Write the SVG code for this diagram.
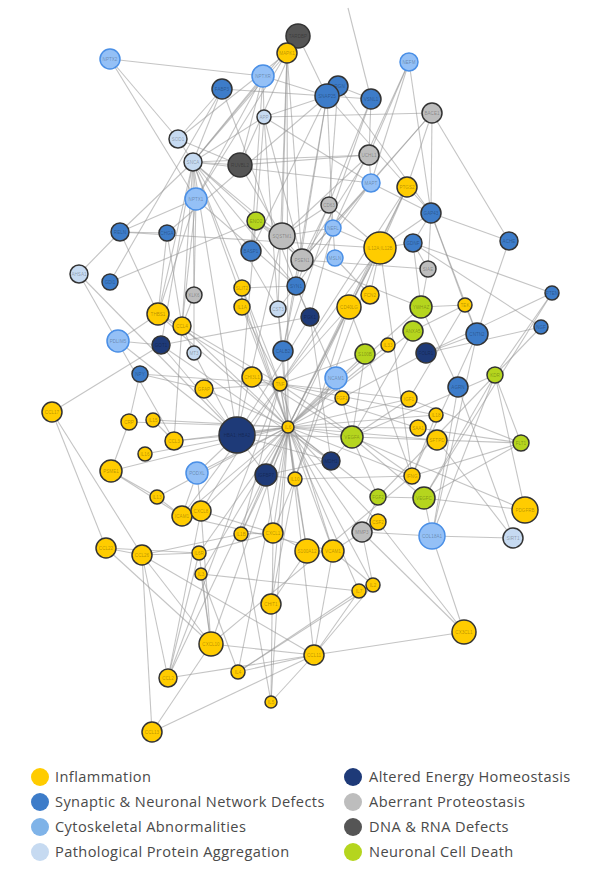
<svg xmlns="http://www.w3.org/2000/svg" width="600" height="880" viewBox="0 0 600 880">
<style>
#edges line{stroke:#949494;stroke-opacity:.55;stroke-width:1.1}
.nd circle{stroke:#333;stroke-width:1.5}
.inf{fill:#FFCC00}.syn{fill:#3D7CC9}.cyt{fill:#94C0F6}.nd .cyt{stroke:#4A8FE6}.ppa{fill:#C6DAF1}.aeh{fill:#1E3A78}.apr{fill:#BDBDBD}.dna{fill:#555}.ncd{fill:#B5D51E}
.nd text{font-family:"Liberation Sans",Arial,sans-serif;font-size:4.6px;text-anchor:middle;dominant-baseline:central;fill:#000;fill-opacity:.3}
.lg text{font-family:"Open Sans","Liberation Sans",sans-serif;font-size:14.6px;letter-spacing:.4px;fill:#4a4a4a}
</style>
<rect width="600" height="880" fill="#fff"/>
<g id="edges">
<line x1="110" y1="59" x2="263" y2="76"/><line x1="110" y1="59" x2="178" y2="139"/><line x1="110" y1="59" x2="196" y2="199"/>
<line x1="298" y1="36" x2="287" y2="53"/><line x1="298" y1="36" x2="327" y2="96"/><line x1="298" y1="36" x2="193" y2="162"/>
<line x1="287" y1="53" x2="193" y2="162"/><line x1="287" y1="53" x2="178" y2="139"/><line x1="287" y1="53" x2="288" y2="427"/><line x1="287" y1="53" x2="282" y2="236"/><line x1="287" y1="53" x2="302" y2="260"/><line x1="287" y1="53" x2="196" y2="199"/><line x1="287" y1="53" x2="278" y2="309"/>
<line x1="222" y1="89" x2="327" y2="96"/><line x1="222" y1="89" x2="178" y2="139"/><line x1="222" y1="89" x2="193" y2="162"/><line x1="222" y1="89" x2="296" y2="286"/><line x1="222" y1="89" x2="110" y2="282"/>
<line x1="263" y1="76" x2="193" y2="162"/><line x1="263" y1="76" x2="264" y2="117"/><line x1="263" y1="76" x2="196" y2="199"/><line x1="263" y1="76" x2="327" y2="96"/><line x1="263" y1="76" x2="251" y2="251"/><line x1="263" y1="76" x2="240" y2="165"/>
<line x1="327" y1="96" x2="338" y2="86"/><line x1="327" y1="96" x2="371" y2="99"/><line x1="327" y1="96" x2="296" y2="286"/><line x1="327" y1="96" x2="264" y2="117"/><line x1="327" y1="96" x2="251" y2="251"/><line x1="327" y1="96" x2="333" y2="228"/><line x1="327" y1="96" x2="431" y2="213"/><line x1="327" y1="96" x2="283" y2="351"/>
<line x1="338" y1="86" x2="371" y2="99"/><line x1="338" y1="86" x2="431" y2="213"/><line x1="338" y1="86" x2="329" y2="205"/>
<line x1="371" y1="99" x2="348" y2="8"/><line x1="371" y1="99" x2="369" y2="155"/><line x1="371" y1="99" x2="283" y2="351"/><line x1="371" y1="99" x2="296" y2="286"/>
<line x1="264" y1="117" x2="432" y2="113"/><line x1="264" y1="117" x2="302" y2="260"/><line x1="264" y1="117" x2="193" y2="162"/><line x1="264" y1="117" x2="371" y2="183"/><line x1="264" y1="117" x2="278" y2="309"/><line x1="264" y1="117" x2="256" y2="221"/>
<line x1="409" y1="62" x2="333" y2="228"/><line x1="409" y1="62" x2="371" y2="183"/><line x1="409" y1="62" x2="431" y2="213"/><line x1="409" y1="62" x2="369" y2="155"/>
<line x1="432" y1="113" x2="302" y2="260"/><line x1="432" y1="113" x2="431" y2="213"/><line x1="432" y1="113" x2="509" y2="241"/><line x1="432" y1="113" x2="371" y2="183"/>
<line x1="178" y1="139" x2="193" y2="162"/><line x1="178" y1="139" x2="240" y2="165"/>
<line x1="193" y1="162" x2="240" y2="165"/><line x1="193" y1="162" x2="196" y2="199"/><line x1="193" y1="162" x2="282" y2="236"/><line x1="193" y1="162" x2="302" y2="260"/><line x1="193" y1="162" x2="369" y2="155"/><line x1="193" y1="162" x2="371" y2="183"/><line x1="193" y1="162" x2="237" y2="435"/><line x1="193" y1="162" x2="288" y2="427"/><line x1="193" y1="162" x2="278" y2="309"/><line x1="193" y1="162" x2="194" y2="295"/><line x1="193" y1="162" x2="161" y2="345"/><line x1="193" y1="162" x2="158" y2="314"/><line x1="193" y1="162" x2="182" y2="326"/><line x1="193" y1="162" x2="296" y2="286"/><line x1="193" y1="162" x2="280" y2="384"/>
<line x1="240" y1="165" x2="369" y2="155"/><line x1="240" y1="165" x2="282" y2="236"/><line x1="240" y1="165" x2="298" y2="36"/>
<line x1="369" y1="155" x2="282" y2="236"/><line x1="369" y1="155" x2="302" y2="260"/><line x1="369" y1="155" x2="371" y2="183"/>
<line x1="371" y1="183" x2="302" y2="260"/><line x1="371" y1="183" x2="431" y2="213"/><line x1="371" y1="183" x2="333" y2="228"/><line x1="371" y1="183" x2="296" y2="286"/>
<line x1="407" y1="187" x2="288" y2="427"/><line x1="407" y1="187" x2="280" y2="384"/><line x1="407" y1="187" x2="380" y2="248"/><line x1="407" y1="187" x2="432" y2="113"/><line x1="407" y1="187" x2="241" y2="534"/>
<line x1="196" y1="199" x2="120" y2="232"/><line x1="196" y1="199" x2="182" y2="326"/><line x1="196" y1="199" x2="194" y2="295"/><line x1="196" y1="199" x2="158" y2="314"/><line x1="196" y1="199" x2="296" y2="286"/>
<line x1="120" y1="232" x2="79" y2="274"/><line x1="120" y1="232" x2="167" y2="233"/><line x1="120" y1="232" x2="158" y2="314"/><line x1="120" y1="232" x2="380" y2="248"/><line x1="120" y1="232" x2="193" y2="162"/>
<line x1="167" y1="233" x2="158" y2="314"/><line x1="167" y1="233" x2="327" y2="96"/><line x1="167" y1="233" x2="182" y2="326"/>
<line x1="79" y1="274" x2="174" y2="441"/><line x1="79" y1="274" x2="237" y2="435"/><line x1="110" y1="282" x2="256" y2="221"/>
<line x1="256" y1="221" x2="282" y2="236"/><line x1="256" y1="221" x2="251" y2="251"/><line x1="256" y1="221" x2="237" y2="435"/><line x1="256" y1="221" x2="302" y2="260"/>
<line x1="282" y1="236" x2="302" y2="260"/><line x1="282" y1="236" x2="329" y2="205"/><line x1="282" y1="236" x2="237" y2="435"/><line x1="282" y1="236" x2="333" y2="228"/>
<line x1="329" y1="205" x2="333" y2="228"/><line x1="329" y1="205" x2="302" y2="260"/><line x1="329" y1="205" x2="380" y2="248"/>
<line x1="333" y1="228" x2="335" y2="258"/><line x1="333" y1="228" x2="380" y2="248"/><line x1="333" y1="228" x2="310" y2="317"/>
<line x1="380" y1="248" x2="288" y2="427"/><line x1="380" y1="248" x2="280" y2="384"/><line x1="380" y1="248" x2="349" y2="307"/><line x1="380" y1="248" x2="412" y2="476"/><line x1="380" y1="248" x2="413" y2="243"/><line x1="380" y1="248" x2="295" y2="479"/><line x1="380" y1="248" x2="370" y2="295"/>
<line x1="431" y1="213" x2="413" y2="243"/><line x1="431" y1="213" x2="428" y2="269"/><line x1="431" y1="213" x2="477" y2="334"/><line x1="431" y1="213" x2="509" y2="241"/><line x1="431" y1="213" x2="465" y2="305"/><line x1="431" y1="213" x2="380" y2="248"/>
<line x1="509" y1="241" x2="477" y2="334"/>
<line x1="413" y1="243" x2="552" y2="293"/><line x1="413" y1="243" x2="541" y2="327"/><line x1="413" y1="243" x2="421" y2="307"/><line x1="413" y1="243" x2="428" y2="269"/>
<line x1="428" y1="269" x2="421" y2="307"/><line x1="428" y1="269" x2="302" y2="260"/>
<line x1="465" y1="305" x2="421" y2="307"/><line x1="465" y1="305" x2="477" y2="334"/><line x1="465" y1="305" x2="413" y2="331"/><line x1="465" y1="305" x2="409" y2="399"/>
<line x1="552" y1="293" x2="424" y2="498"/><line x1="552" y1="293" x2="426" y2="353"/><line x1="552" y1="293" x2="495" y2="375"/>
<line x1="541" y1="327" x2="378" y2="497"/><line x1="541" y1="327" x2="426" y2="353"/>
<line x1="477" y1="334" x2="432" y2="536"/><line x1="477" y1="334" x2="426" y2="353"/><line x1="477" y1="334" x2="412" y2="476"/>
<line x1="194" y1="295" x2="182" y2="326"/><line x1="194" y1="295" x2="194" y2="353"/>
<line x1="242" y1="288" x2="242" y2="307"/><line x1="242" y1="288" x2="296" y2="286"/>
<line x1="242" y1="307" x2="288" y2="427"/><line x1="242" y1="307" x2="280" y2="384"/>
<line x1="296" y1="286" x2="278" y2="309"/><line x1="296" y1="286" x2="310" y2="317"/><line x1="296" y1="286" x2="283" y2="351"/>
<line x1="278" y1="309" x2="283" y2="351"/>
<line x1="310" y1="317" x2="237" y2="435"/><line x1="310" y1="317" x2="331" y2="461"/><line x1="310" y1="317" x2="161" y2="345"/>
<line x1="349" y1="307" x2="288" y2="427"/><line x1="349" y1="307" x2="280" y2="384"/><line x1="349" y1="307" x2="412" y2="476"/><line x1="349" y1="307" x2="295" y2="479"/>
<line x1="370" y1="295" x2="335" y2="258"/>
<line x1="158" y1="314" x2="182" y2="326"/><line x1="158" y1="314" x2="118" y2="341"/><line x1="158" y1="314" x2="352" y2="437"/><line x1="158" y1="314" x2="288" y2="427"/>
<line x1="182" y1="326" x2="288" y2="427"/><line x1="182" y1="326" x2="280" y2="384"/><line x1="182" y1="326" x2="174" y2="441"/><line x1="182" y1="326" x2="194" y2="353"/>
<line x1="118" y1="341" x2="161" y2="345"/><line x1="118" y1="341" x2="237" y2="435"/>
<line x1="161" y1="345" x2="331" y2="461"/><line x1="161" y1="345" x2="237" y2="435"/><line x1="194" y1="353" x2="237" y2="435"/>
<line x1="140" y1="374" x2="129" y2="422"/><line x1="140" y1="374" x2="204" y2="389"/><line x1="140" y1="374" x2="280" y2="384"/>
<line x1="283" y1="351" x2="288" y2="427"/>
<line x1="365" y1="354" x2="288" y2="427"/><line x1="365" y1="354" x2="280" y2="384"/><line x1="365" y1="354" x2="352" y2="437"/>
<line x1="388" y1="345" x2="288" y2="427"/><line x1="413" y1="331" x2="288" y2="427"/><line x1="413" y1="331" x2="352" y2="437"/>
<line x1="426" y1="353" x2="342" y2="398"/><line x1="421" y1="307" x2="302" y2="260"/><line x1="421" y1="307" x2="288" y2="427"/>
<line x1="252" y1="377" x2="288" y2="427"/><line x1="252" y1="377" x2="280" y2="384"/>
<line x1="280" y1="384" x2="288" y2="427"/><line x1="280" y1="384" x2="295" y2="479"/><line x1="280" y1="384" x2="241" y2="534"/><line x1="280" y1="384" x2="201" y2="511"/><line x1="280" y1="384" x2="182" y2="516"/><line x1="280" y1="384" x2="333" y2="551"/><line x1="280" y1="384" x2="168" y2="678"/><line x1="280" y1="384" x2="412" y2="476"/><line x1="280" y1="384" x2="409" y2="399"/>
<line x1="336" y1="378" x2="288" y2="427"/><line x1="336" y1="378" x2="342" y2="398"/><line x1="336" y1="378" x2="296" y2="286"/>
<line x1="342" y1="398" x2="288" y2="427"/><line x1="342" y1="398" x2="352" y2="437"/>
<line x1="409" y1="399" x2="288" y2="427"/><line x1="409" y1="399" x2="352" y2="437"/><line x1="409" y1="399" x2="521" y2="443"/>
<line x1="458" y1="387" x2="432" y2="536"/><line x1="458" y1="387" x2="513" y2="538"/><line x1="458" y1="387" x2="421" y2="307"/>
<line x1="495" y1="375" x2="352" y2="437"/><line x1="495" y1="375" x2="521" y2="443"/><line x1="495" y1="375" x2="424" y2="498"/><line x1="495" y1="375" x2="432" y2="536"/><line x1="495" y1="375" x2="525" y2="510"/>
<line x1="204" y1="389" x2="288" y2="427"/><line x1="204" y1="389" x2="280" y2="384"/>
<line x1="52" y1="412" x2="161" y2="345"/><line x1="52" y1="412" x2="106" y2="548"/><line x1="52" y1="412" x2="142" y2="555"/>
<line x1="129" y1="422" x2="288" y2="427"/><line x1="129" y1="422" x2="111" y2="471"/>
<line x1="153" y1="420" x2="288" y2="427"/><line x1="153" y1="420" x2="174" y2="441"/>
<line x1="174" y1="441" x2="288" y2="427"/><line x1="174" y1="441" x2="237" y2="435"/>
<line x1="237" y1="435" x2="288" y2="427"/><line x1="237" y1="435" x2="266" y2="475"/><line x1="237" y1="435" x2="331" y2="461"/><line x1="237" y1="435" x2="352" y2="437"/><line x1="237" y1="435" x2="197" y2="473"/>
<line x1="288" y1="427" x2="295" y2="479"/><line x1="288" y1="427" x2="241" y2="534"/><line x1="288" y1="427" x2="201" y2="511"/><line x1="288" y1="427" x2="168" y2="678"/><line x1="288" y1="427" x2="211" y2="644"/><line x1="288" y1="427" x2="352" y2="437"/><line x1="288" y1="427" x2="145" y2="454"/><line x1="288" y1="427" x2="157" y2="497"/><line x1="288" y1="427" x2="314" y2="655"/><line x1="288" y1="427" x2="418" y2="428"/><line x1="288" y1="427" x2="412" y2="476"/><line x1="288" y1="427" x2="378" y2="522"/><line x1="288" y1="427" x2="307" y2="551"/><line x1="288" y1="427" x2="333" y2="551"/><line x1="288" y1="427" x2="182" y2="516"/><line x1="288" y1="427" x2="238" y2="672"/><line x1="288" y1="427" x2="271" y2="702"/><line x1="288" y1="427" x2="271" y2="604"/><line x1="288" y1="427" x2="278" y2="309"/><line x1="288" y1="427" x2="242" y2="288"/><line x1="288" y1="427" x2="266" y2="475"/><line x1="288" y1="427" x2="331" y2="461"/><line x1="288" y1="427" x2="273" y2="533"/><line x1="288" y1="427" x2="362" y2="532"/><line x1="288" y1="427" x2="437" y2="440"/><line x1="288" y1="427" x2="436" y2="415"/><line x1="288" y1="427" x2="378" y2="497"/><line x1="288" y1="427" x2="373" y2="585"/><line x1="288" y1="427" x2="359" y2="591"/><line x1="288" y1="427" x2="197" y2="473"/><line x1="288" y1="427" x2="201" y2="574"/><line x1="288" y1="427" x2="199" y2="553"/><line x1="288" y1="427" x2="111" y2="471"/>
<line x1="352" y1="437" x2="521" y2="443"/><line x1="352" y1="437" x2="424" y2="498"/><line x1="352" y1="437" x2="378" y2="497"/><line x1="352" y1="437" x2="331" y2="461"/><line x1="352" y1="437" x2="525" y2="510"/>
<line x1="436" y1="415" x2="412" y2="476"/><line x1="436" y1="415" x2="280" y2="384"/>
<line x1="418" y1="428" x2="280" y2="384"/><line x1="418" y1="428" x2="521" y2="443"/><line x1="437" y1="440" x2="513" y2="538"/>
<line x1="521" y1="443" x2="424" y2="498"/><line x1="521" y1="443" x2="412" y2="476"/>
<line x1="412" y1="476" x2="295" y2="479"/><line x1="412" y1="476" x2="211" y2="644"/>
<line x1="111" y1="471" x2="157" y2="497"/><line x1="111" y1="471" x2="182" y2="516"/>
<line x1="197" y1="473" x2="182" y2="516"/><line x1="197" y1="473" x2="201" y2="511"/>
<line x1="266" y1="475" x2="295" y2="479"/><line x1="266" y1="475" x2="273" y2="533"/><line x1="266" y1="475" x2="331" y2="461"/>
<line x1="295" y1="479" x2="273" y2="533"/><line x1="295" y1="479" x2="307" y2="551"/><line x1="295" y1="479" x2="271" y2="604"/>
<line x1="157" y1="497" x2="182" y2="516"/>
<line x1="182" y1="516" x2="201" y2="511"/><line x1="182" y1="516" x2="333" y2="551"/>
<line x1="201" y1="511" x2="273" y2="533"/><line x1="201" y1="511" x2="211" y2="644"/><line x1="201" y1="511" x2="168" y2="678"/>
<line x1="378" y1="497" x2="424" y2="498"/><line x1="378" y1="497" x2="362" y2="532"/>
<line x1="424" y1="498" x2="432" y2="536"/><line x1="424" y1="498" x2="525" y2="510"/>
<line x1="432" y1="536" x2="513" y2="538"/><line x1="432" y1="536" x2="362" y2="532"/><line x1="432" y1="536" x2="464" y2="632"/>
<line x1="378" y1="522" x2="362" y2="532"/><line x1="378" y1="522" x2="464" y2="632"/><line x1="362" y1="532" x2="464" y2="632"/><line x1="362" y1="532" x2="333" y2="551"/>
<line x1="241" y1="534" x2="273" y2="533"/><line x1="241" y1="534" x2="142" y2="555"/>
<line x1="273" y1="533" x2="307" y2="551"/><line x1="273" y1="533" x2="271" y2="702"/><line x1="273" y1="533" x2="199" y2="553"/>
<line x1="307" y1="551" x2="333" y2="551"/><line x1="333" y1="551" x2="314" y2="655"/><line x1="333" y1="551" x2="373" y2="585"/>
<line x1="106" y1="548" x2="142" y2="555"/><line x1="106" y1="548" x2="211" y2="644"/><line x1="106" y1="548" x2="199" y2="553"/>
<line x1="142" y1="555" x2="168" y2="678"/><line x1="142" y1="555" x2="152" y2="732"/><line x1="142" y1="555" x2="211" y2="644"/><line x1="142" y1="555" x2="199" y2="553"/><line x1="142" y1="555" x2="314" y2="655"/>
<line x1="199" y1="553" x2="211" y2="644"/><line x1="199" y1="553" x2="168" y2="678"/>
<line x1="201" y1="574" x2="211" y2="644"/><line x1="201" y1="574" x2="238" y2="672"/><line x1="201" y1="574" x2="359" y2="591"/>
<line x1="271" y1="604" x2="307" y2="551"/>
<line x1="211" y1="644" x2="314" y2="655"/><line x1="211" y1="644" x2="152" y2="732"/>
<line x1="168" y1="678" x2="314" y2="655"/><line x1="152" y1="732" x2="314" y2="655"/>
<line x1="314" y1="655" x2="464" y2="632"/><line x1="314" y1="655" x2="373" y2="585"/><line x1="314" y1="655" x2="359" y2="591"/><line x1="314" y1="655" x2="238" y2="672"/><line x1="314" y1="655" x2="271" y2="702"/>
<line x1="238" y1="672" x2="359" y2="591"/><line x1="238" y1="672" x2="373" y2="585"/>
<line x1="271" y1="702" x2="241" y2="534"/><line x1="373" y1="585" x2="362" y2="532"/>
</g>
<g id="nodes">
<g id="n-NPTX2" class="nd"><circle class="cyt" cx="110" cy="59" r="10"/><text x="110" y="59">NPTX2</text></g>
<g id="n-TARDBP" class="nd"><circle class="dna" cx="298" cy="36" r="12"/><text x="298" y="36">TARDBP</text></g>
<g id="n-MAPK1" class="nd"><circle class="inf" cx="287" cy="53" r="10"/><text x="287" y="53">MAPK1</text></g>
<g id="n-NEFM" class="nd"><circle class="cyt" cx="409" cy="62" r="9"/><text x="409" y="62">NEFM</text></g>
<g id="n-NPTXR" class="nd"><circle class="cyt" cx="263" cy="76" r="11"/><text x="263" y="76">NPTXR</text></g>
<g id="n-FABP3" class="nd"><circle class="syn" cx="222" cy="89" r="10"/><text x="222" y="89">FABP3</text></g>
<g id="n-NRGN" class="nd"><circle class="syn" cx="338" cy="86" r="10"/><text x="338" y="86">NRGN</text></g>
<g id="n-SNAP25" class="nd"><circle class="syn" cx="327" cy="96" r="12"/><text x="327" y="96">SNAP25</text></g>
<g id="n-VSNL1" class="nd"><circle class="syn" cx="371" cy="99" r="10"/><text x="371" y="99">VSNL1</text></g>
<g id="n-APP" class="nd"><circle class="ppa" cx="264" cy="117" r="7"/><text x="264" y="117">APP</text></g>
<g id="n-BACE1" class="nd"><circle class="apr" cx="432" cy="113" r="10"/><text x="432" y="113">BACE1</text></g>
<g id="n-SOD1" class="nd"><circle class="ppa" cx="178" cy="139" r="9"/><text x="178" y="139">SOD1</text></g>
<g id="n-SNCA" class="nd"><circle class="ppa" cx="193" cy="162" r="9"/><text x="193" y="162">SNCA</text></g>
<g id="n-RUVBL2" class="nd"><circle class="dna" cx="240" cy="165" r="12"/><text x="240" y="165">RUVBL2</text></g>
<g id="n-UCHL1" class="nd"><circle class="apr" cx="369" cy="155" r="10"/><text x="369" y="155">UCHL1</text></g>
<g id="n-MAPT" class="nd"><circle class="cyt" cx="371" cy="183" r="9"/><text x="371" y="183">MAPT</text></g>
<g id="n-PTGS2" class="nd"><circle class="inf" cx="407" cy="187" r="10"/><text x="407" y="187">PTGS2</text></g>
<g id="n-NPTX1" class="nd"><circle class="cyt" cx="196" cy="199" r="11"/><text x="196" y="199">NPTX1</text></g>
<g id="n-ENO2" class="nd"><circle class="ncd" cx="256" cy="221" r="9"/><text x="256" y="221">ENO2</text></g>
<g id="n-SQSTM1" class="nd"><circle class="apr" cx="282" cy="236" r="13"/><text x="282" y="236">SQSTM1</text></g>
<g id="n-CD63" class="nd"><circle class="apr" cx="329" cy="205" r="8"/><text x="329" y="205">CD63</text></g>
<g id="n-NEFL" class="nd"><circle class="cyt" cx="333" cy="228" r="8"/><text x="333" y="228">NEFL</text></g>
<g id="n-GAP43" class="nd"><circle class="syn" cx="431" cy="213" r="10"/><text x="431" y="213">GAP43</text></g>
<g id="n-RELN" class="nd"><circle class="syn" cx="120" cy="232" r="9"/><text x="120" y="232">RELN</text></g>
<g id="n-CHGA" class="nd"><circle class="syn" cx="167" cy="233" r="8"/><text x="167" y="233">CHGA</text></g>
<g id="n-BASP1" class="nd"><circle class="syn" cx="251" cy="251" r="10"/><text x="251" y="251">BASP1</text></g>
<g id="n-PSEN1" class="nd"><circle class="apr" cx="302" cy="260" r="11"/><text x="302" y="260">PSEN1</text></g>
<g id="n-MSLN" class="nd"><circle class="cyt" cx="335" cy="258" r="8"/><text x="335" y="258">MSLN</text></g>
<g id="n-IL12" class="nd"><circle class="inf" cx="380" cy="248" r="16"/><text x="380" y="248">IL12A;IL12B</text></g>
<g id="n-GDNF" class="nd"><circle class="syn" cx="413" cy="243" r="9"/><text x="413" y="243">GDNF</text></g>
<g id="n-ACHE" class="nd"><circle class="syn" cx="509" cy="241" r="9"/><text x="509" y="241">ACHE</text></g>
<g id="n-AHSA1" class="nd"><circle class="ppa" cx="79" cy="274" r="9"/><text x="79" y="274">AHSA1</text></g>
<g id="n-GDI1" class="nd"><circle class="syn" cx="110" cy="282" r="8"/><text x="110" y="282">GDI1</text></g>
<g id="n-KLK6" class="nd"><circle class="apr" cx="194" cy="295" r="8"/><text x="194" y="295">KLK6</text></g>
<g id="n-SLIT2" class="nd"><circle class="inf" cx="242" cy="288" r="8"/><text x="242" y="288">SLIT2</text></g>
<g id="n-SYN1" class="nd"><circle class="syn" cx="296" cy="286" r="9"/><text x="296" y="286">SYN1</text></g>
<g id="n-SIAE" class="nd"><circle class="apr" cx="428" cy="269" r="8"/><text x="428" y="269">SIAE</text></g>
<g id="n-THBS1" class="nd"><circle class="inf" cx="158" cy="314" r="11"/><text x="158" y="314">THBS1</text></g>
<g id="n-CCL4" class="nd"><circle class="inf" cx="182" cy="326" r="9"/><text x="182" y="326">CCL4</text></g>
<g id="n-IL1A" class="nd"><circle class="inf" cx="242" cy="307" r="8"/><text x="242" y="307">IL1A</text></g>
<g id="n-CST3" class="nd"><circle class="ppa" cx="278" cy="309" r="8"/><text x="278" y="309">CST3</text></g>
<g id="n-PGK1" class="nd"><circle class="aeh" cx="310" cy="317" r="9"/><text x="310" y="317">PGK1</text></g>
<g id="n-CD40LG" class="nd"><circle class="inf" cx="349" cy="307" r="12"/><text x="349" y="307">CD40LG</text></g>
<g id="n-FCN2" class="nd"><circle class="inf" cx="370" cy="295" r="9"/><text x="370" y="295">FCN2</text></g>
<g id="n-YWHAZ" class="nd"><circle class="ncd" cx="421" cy="307" r="11"/><text x="421" y="307">YWHAZ</text></g>
<g id="n-TEK" class="nd"><circle class="inf" cx="465" cy="305" r="7"/><text x="465" y="305">TEK</text></g>
<g id="n-PTEN" class="nd"><circle class="syn" cx="552" cy="293" r="7"/><text x="552" y="293">PTEN</text></g>
<g id="n-PDLIM5" class="nd"><circle class="cyt" cx="118" cy="341" r="11"/><text x="118" y="341">PDLIM5</text></g>
<g id="n-GOT1" class="nd"><circle class="aeh" cx="161" cy="345" r="9"/><text x="161" y="345">GOT1</text></g>
<g id="n-MT3" class="nd"><circle class="ppa" cx="194" cy="353" r="7"/><text x="194" y="353">MT3</text></g>
<g id="n-CALB2" class="nd"><circle class="syn" cx="283" cy="351" r="10"/><text x="283" y="351">CALB2</text></g>
<g id="n-S100B" class="nd"><circle class="ncd" cx="365" cy="354" r="10"/><text x="365" y="354">S100B</text></g>
<g id="n-IL33" class="nd"><circle class="inf" cx="388" cy="345" r="7"/><text x="388" y="345">IL33</text></g>
<g id="n-ANXA5" class="nd"><circle class="ncd" cx="413" cy="331" r="10"/><text x="413" y="331">ANXA5</text></g>
<g id="n-FOLR1" class="nd"><circle class="aeh" cx="426" cy="353" r="10"/><text x="426" y="353">FOLR1</text></g>
<g id="n-CNTN2" class="nd"><circle class="syn" cx="477" cy="334" r="11"/><text x="477" y="334">CNTN2</text></g>
<g id="n-NGF" class="nd"><circle class="syn" cx="541" cy="327" r="7"/><text x="541" y="327">NGF</text></g>
<g id="n-NPY" class="nd"><circle class="syn" cx="140" cy="374" r="8"/><text x="140" y="374">NPY</text></g>
<g id="n-CHI3L1" class="nd"><circle class="inf" cx="252" cy="377" r="10"/><text x="252" y="377">CHI3L1</text></g>
<g id="n-TNF" class="nd"><circle class="inf" cx="280" cy="384" r="7"/><text x="280" y="384">TNF</text></g>
<g id="n-NCAM1" class="nd"><circle class="cyt" cx="336" cy="378" r="11"/><text x="336" y="378">NCAM1</text></g>
<g id="n-FGF1" class="nd"><circle class="inf" cx="342" cy="398" r="7"/><text x="342" y="398">FGF1</text></g>
<g id="n-IGF1" class="nd"><circle class="inf" cx="409" cy="399" r="8"/><text x="409" y="399">IGF1</text></g>
<g id="n-AGRN" class="nd"><circle class="syn" cx="458" cy="387" r="10"/><text x="458" y="387">AGRN</text></g>
<g id="n-KDR" class="nd"><circle class="ncd" cx="495" cy="375" r="8"/><text x="495" y="375">KDR</text></g>
<g id="n-GFAP" class="nd"><circle class="inf" cx="204" cy="389" r="9"/><text x="204" y="389">GFAP</text></g>
<g id="n-CCL17" class="nd"><circle class="inf" cx="52" cy="412" r="10"/><text x="52" y="412">CCL17</text></g>
<g id="n-CRP" class="nd"><circle class="inf" cx="129" cy="422" r="8"/><text x="129" y="422">CRP</text></g>
<g id="n-IL15" class="nd"><circle class="inf" cx="153" cy="420" r="7"/><text x="153" y="420">IL15</text></g>
<g id="n-CCL3" class="nd"><circle class="inf" cx="174" cy="441" r="9"/><text x="174" y="441">CCL3</text></g>
<g id="n-HBA" class="nd"><circle class="aeh" cx="237" cy="435" r="18"/><text x="237" y="435">HBA1; HBA2</text></g>
<g id="n-IL6" class="nd"><circle class="inf" cx="288" cy="427" r="6"/><text x="288" y="427">IL6</text></g>
<g id="n-VEGFA" class="nd"><circle class="ncd" cx="352" cy="437" r="11"/><text x="352" y="437">VEGFA</text></g>
<g id="n-IL18" class="nd"><circle class="inf" cx="436" cy="415" r="7"/><text x="436" y="415">IL18</text></g>
<g id="n-SAA1" class="nd"><circle class="inf" cx="418" cy="428" r="8"/><text x="418" y="428">SAA1</text></g>
<g id="n-SFTPD" class="nd"><circle class="inf" cx="437" cy="440" r="10"/><text x="437" y="440">SFTPD</text></g>
<g id="n-FLT1" class="nd"><circle class="ncd" cx="521" cy="443" r="8"/><text x="521" y="443">FLT1</text></g>
<g id="n-IL16" class="nd"><circle class="inf" cx="145" cy="454" r="7"/><text x="145" y="454">IL16</text></g>
<g id="n-PSME1" class="nd"><circle class="inf" cx="111" cy="471" r="11"/><text x="111" y="471">PSME1</text></g>
<g id="n-PODXL" class="nd"><circle class="cyt" cx="197" cy="473" r="11"/><text x="197" y="473">PODXL</text></g>
<g id="n-IGFBP7" class="nd"><circle class="aeh" cx="266" cy="475" r="11"/><text x="266" y="475">IGFBP7</text></g>
<g id="n-IL10" class="nd"><circle class="inf" cx="295" cy="479" r="7"/><text x="295" y="479">IL10</text></g>
<g id="n-MDH1" class="nd"><circle class="aeh" cx="331" cy="461" r="9"/><text x="331" y="461">MDH1</text></g>
<g id="n-IFNG" class="nd"><circle class="inf" cx="412" cy="476" r="8"/><text x="412" y="476">IFNG</text></g>
<g id="n-IL13" class="nd"><circle class="inf" cx="157" cy="497" r="7"/><text x="157" y="497">IL13</text></g>
<g id="n-ICAM1" class="nd"><circle class="inf" cx="182" cy="516" r="10"/><text x="182" y="516">ICAM1</text></g>
<g id="n-CXCL8" class="nd"><circle class="inf" cx="201" cy="511" r="10"/><text x="201" y="511">CXCL8</text></g>
<g id="n-FGF2" class="nd"><circle class="ncd" cx="378" cy="497" r="8"/><text x="378" y="497">FGF2</text></g>
<g id="n-VEGFC" class="nd"><circle class="ncd" cx="424" cy="498" r="11"/><text x="424" y="498">VEGFC</text></g>
<g id="n-PDGFRB" class="nd"><circle class="inf" cx="525" cy="510" r="13"/><text x="525" y="510">PDGFRB</text></g>
<g id="n-CSF2" class="nd"><circle class="inf" cx="378" cy="522" r="8"/><text x="378" y="522">CSF2</text></g>
<g id="n-MMP3" class="nd"><circle class="apr" cx="362" cy="532" r="10"/><text x="362" y="532">MMP3</text></g>
<g id="n-IL1B" class="nd"><circle class="inf" cx="241" cy="534" r="7"/><text x="241" y="534">IL1B</text></g>
<g id="n-CXCL1" class="nd"><circle class="inf" cx="273" cy="533" r="10"/><text x="273" y="533">CXCL1</text></g>
<g id="n-COL18A1" class="nd"><circle class="cyt" cx="432" cy="536" r="13"/><text x="432" y="536">COL18A1</text></g>
<g id="n-SIRT1" class="nd"><circle class="ppa" cx="513" cy="538" r="10"/><text x="513" y="538">SIRT1</text></g>
<g id="n-CCL22" class="nd"><circle class="inf" cx="106" cy="548" r="10"/><text x="106" y="548">CCL22</text></g>
<g id="n-CCL26" class="nd"><circle class="inf" cx="142" cy="555" r="10"/><text x="142" y="555">CCL26</text></g>
<g id="n-IL6R" class="nd"><circle class="inf" cx="199" cy="553" r="7"/><text x="199" y="553">IL6R</text></g>
<g id="n-S100A12" class="nd"><circle class="inf" cx="307" cy="551" r="12"/><text x="307" y="551">S100A12</text></g>
<g id="n-VCAM1" class="nd"><circle class="inf" cx="333" cy="551" r="11"/><text x="333" y="551">VCAM1</text></g>
<g id="n-IL3" class="nd"><circle class="inf" cx="201" cy="574" r="6"/><text x="201" y="574">IL3</text></g>
<g id="n-IL7" class="nd"><circle class="inf" cx="359" cy="591" r="7"/><text x="359" y="591">IL7</text></g>
<g id="n-IL2" class="nd"><circle class="inf" cx="373" cy="585" r="7"/><text x="373" y="585">IL2</text></g>
<g id="n-CHIT1" class="nd"><circle class="inf" cx="271" cy="604" r="10"/><text x="271" y="604">CHIT1</text></g>
<g id="n-CXCL10" class="nd"><circle class="inf" cx="211" cy="644" r="12"/><text x="211" y="644">CXCL10</text></g>
<g id="n-CCL11" class="nd"><circle class="inf" cx="314" cy="655" r="10"/><text x="314" y="655">CCL11</text></g>
<g id="n-CX3CL1" class="nd"><circle class="inf" cx="464" cy="632" r="12"/><text x="464" y="632">CX3CL1</text></g>
<g id="n-CCL2" class="nd"><circle class="inf" cx="168" cy="678" r="9"/><text x="168" y="678">CCL2</text></g>
<g id="n-IL4" class="nd"><circle class="inf" cx="238" cy="672" r="7"/><text x="238" y="672">IL4</text></g>
<g id="n-IL5" class="nd"><circle class="inf" cx="271" cy="702" r="6"/><text x="271" y="702">IL5</text></g>
<g id="n-CCL13" class="nd"><circle class="inf" cx="152" cy="732" r="10"/><text x="152" y="732">CCL13</text></g>
</g>
<g id="legend" class="lg">
<circle class="inf" cx="40" cy="777" r="9"/><text x="55" y="782">Inflammation</text>
<circle class="syn" cx="40" cy="802" r="9"/><text x="55" y="807">Synaptic &amp; Neuronal Network Defects</text>
<circle fill="#7FB3E8" cx="40" cy="827" r="9"/><text x="55" y="832">Cytoskeletal Abnormalities</text>
<circle class="ppa" cx="40" cy="852" r="9"/><text x="55" y="857">Pathological Protein Aggregation</text>
<circle class="aeh" cx="353" cy="777" r="9"/><text x="369" y="782">Altered Energy Homeostasis</text>
<circle class="apr" cx="353" cy="802" r="9"/><text x="369" y="807">Aberrant Proteostasis</text>
<circle class="dna" cx="353" cy="827" r="9"/><text x="369" y="832">DNA &amp; RNA Defects</text>
<circle class="ncd" cx="353" cy="852" r="9"/><text x="369" y="857">Neuronal Cell Death</text>
</g>
</svg>
